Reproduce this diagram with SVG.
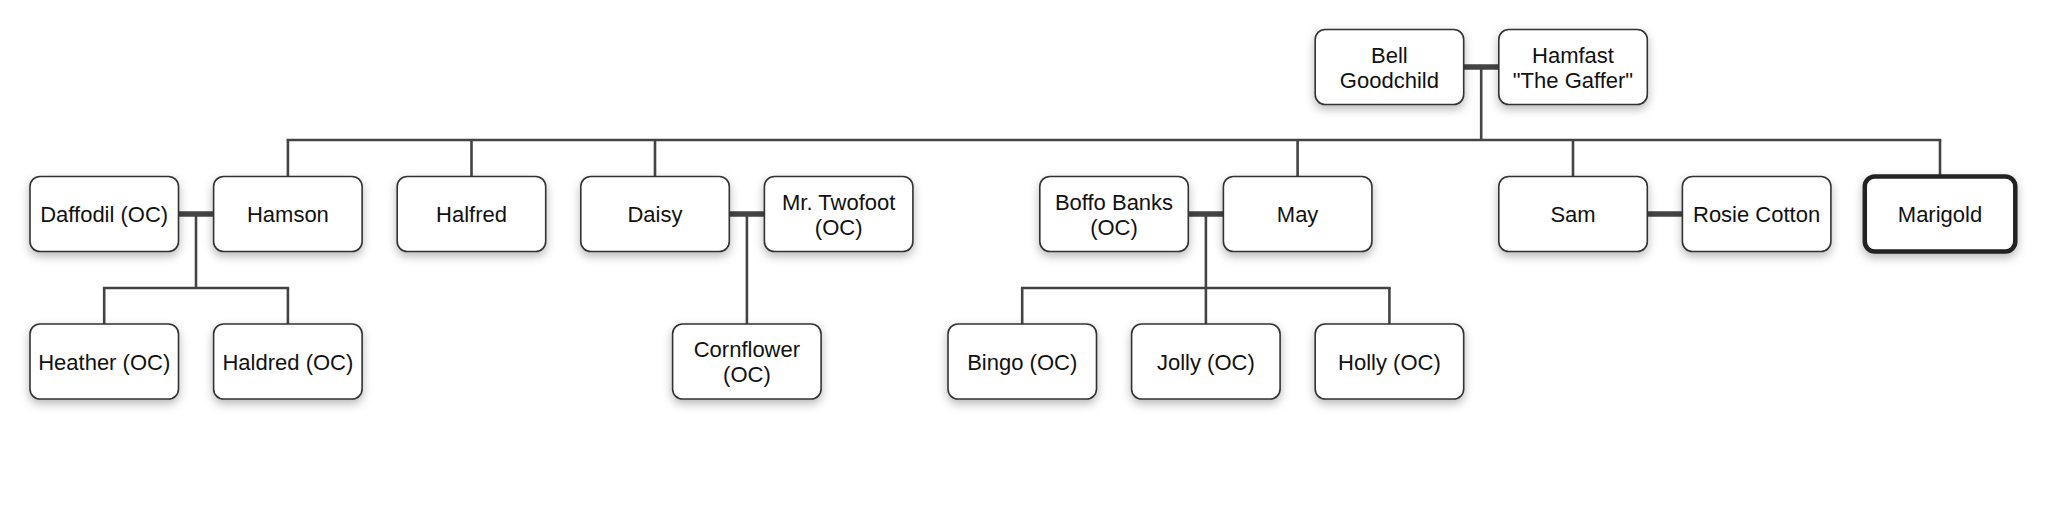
<svg xmlns="http://www.w3.org/2000/svg" width="2048" height="530" viewBox="0 0 2048 530">
<defs>
<filter id="sh" x="-20%" y="-20%" width="140%" height="160%">
<feDropShadow dx="0" dy="4" stdDeviation="5" flood-color="#000" flood-opacity="0.28"/>
</filter>
<style>
.box{fill:#fff;stroke:#333;stroke-width:1.6;filter:url(#sh)}
.focus{fill:#fff;stroke:#222;stroke-width:4.5;filter:url(#sh)}
text{font-family:"Liberation Sans",Arial,Helvetica,sans-serif;font-size:22px;fill:#111;text-anchor:middle}
.ln{stroke:#444;stroke-width:2.6;fill:none}
.sp{stroke:#444;stroke-width:5.5;fill:none}
</style>
</defs>
<rect width="2048" height="530" fill="#fff"/>
<g id="connectors">
<line class="sp" x1="1463.7" y1="67" x2="1498.8" y2="67"/>
<line class="ln" x1="1481.2" y1="67" x2="1481.2" y2="140"/>
<line class="ln" x1="286.6" y1="140" x2="1941.3" y2="140"/>
<line class="ln" x1="287.9" y1="140" x2="287.9" y2="176.5"/>
<line class="ln" x1="471.5" y1="140" x2="471.5" y2="176.5"/>
<line class="ln" x1="655" y1="140" x2="655" y2="176.5"/>
<line class="ln" x1="1297.6" y1="140" x2="1297.6" y2="176.5"/>
<line class="ln" x1="1573" y1="140" x2="1573" y2="176.5"/>
<line class="ln" x1="1940" y1="140" x2="1940" y2="176.5"/>
<line class="sp" x1="178.5" y1="214" x2="213.6" y2="214"/>
<line class="ln" x1="196" y1="214" x2="196" y2="288"/>
<line class="ln" x1="102.9" y1="288" x2="289.2" y2="288"/>
<line class="ln" x1="104.2" y1="288" x2="104.2" y2="324"/>
<line class="ln" x1="287.9" y1="288" x2="287.9" y2="324"/>
<line class="sp" x1="729.3" y1="214" x2="764.4" y2="214"/>
<line class="ln" x1="746.9" y1="214" x2="746.9" y2="324"/>
<line class="sp" x1="1188.3" y1="214" x2="1223.4" y2="214"/>
<line class="ln" x1="1205.9" y1="214" x2="1205.9" y2="288"/>
<line class="ln" x1="1020.9" y1="288" x2="1390.7" y2="288"/>
<line class="ln" x1="1022.2" y1="288" x2="1022.2" y2="324"/>
<line class="ln" x1="1205.9" y1="288" x2="1205.9" y2="324"/>
<line class="ln" x1="1389.4" y1="288" x2="1389.4" y2="324"/>
<line class="sp" x1="1647.3" y1="214" x2="1682.4" y2="214"/>
</g>
<g id="bell"><rect class="box" x="1315.2" y="29.5" width="148.5" height="75" rx="10"/><text x="1389.4" y="62.5">Bell</text><text x="1389.4" y="87.5">Goodchild</text></g>
<g id="hamfast"><rect class="box" x="1498.8" y="29.5" width="148.5" height="75" rx="10"/><text x="1573" y="62.5">Hamfast</text><text x="1573" y="87.5">"The Gaffer"</text></g>
<g id="daffodil"><rect class="box" x="30" y="176.5" width="148.5" height="75" rx="10"/><text x="104.2" y="222">Daffodil (OC)</text></g>
<g id="hamson"><rect class="box" x="213.6" y="176.5" width="148.5" height="75" rx="10"/><text x="287.9" y="222">Hamson</text></g>
<g id="halfred"><rect class="box" x="397.2" y="176.5" width="148.5" height="75" rx="10"/><text x="471.5" y="222">Halfred</text></g>
<g id="daisy"><rect class="box" x="580.8" y="176.5" width="148.5" height="75" rx="10"/><text x="655" y="222">Daisy</text></g>
<g id="twofoot"><rect class="box" x="764.4" y="176.5" width="148.5" height="75" rx="10"/><text x="838.7" y="209.5">Mr. Twofoot</text><text x="838.7" y="234.5">(OC)</text></g>
<g id="boffo"><rect class="box" x="1039.8" y="176.5" width="148.5" height="75" rx="10"/><text x="1114" y="209.5">Boffo Banks</text><text x="1114" y="234.5">(OC)</text></g>
<g id="may"><rect class="box" x="1223.4" y="176.5" width="148.5" height="75" rx="10"/><text x="1297.6" y="222">May</text></g>
<g id="sam"><rect class="box" x="1498.8" y="176.5" width="148.5" height="75" rx="10"/><text x="1573" y="222">Sam</text></g>
<g id="rosie"><rect class="box" x="1682.4" y="176.5" width="148.5" height="75" rx="10"/><text x="1756.6" y="222">Rosie Cotton</text></g>
<g id="marigold"><rect class="focus" x="1864.8" y="176.5" width="150.5" height="75" rx="10"/><text x="1940" y="222">Marigold</text></g>
<g id="heather"><rect class="box" x="30" y="324" width="148.5" height="75" rx="10"/><text x="104.2" y="369.5">Heather (OC)</text></g>
<g id="haldred"><rect class="box" x="213.6" y="324" width="148.5" height="75" rx="10"/><text x="287.9" y="369.5">Haldred (OC)</text></g>
<g id="cornflower"><rect class="box" x="672.6" y="324" width="148.5" height="75" rx="10"/><text x="746.9" y="357">Cornflower</text><text x="746.9" y="382">(OC)</text></g>
<g id="bingo"><rect class="box" x="948" y="324" width="148.5" height="75" rx="10"/><text x="1022.2" y="369.5">Bingo (OC)</text></g>
<g id="jolly"><rect class="box" x="1131.6" y="324" width="148.5" height="75" rx="10"/><text x="1205.9" y="369.5">Jolly (OC)</text></g>
<g id="holly"><rect class="box" x="1315.2" y="324" width="148.5" height="75" rx="10"/><text x="1389.4" y="369.5">Holly (OC)</text></g>
</svg>
